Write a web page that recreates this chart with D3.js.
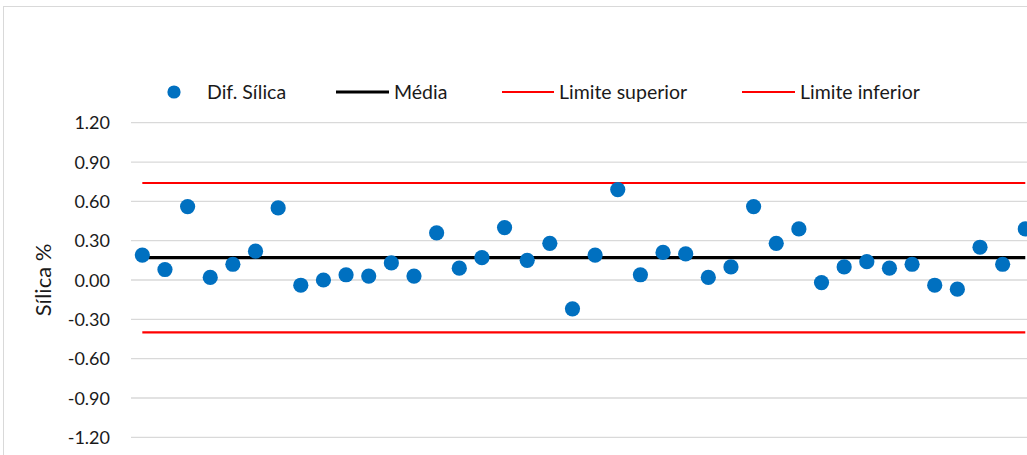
<!DOCTYPE html>
<html>
<head>
<meta charset="utf-8">
<script src="https://cdn.jsdelivr.net/npm/d3@7"></script>
<style>
  html, body { margin: 0; padding: 0; background: #fff; }
  svg { display: block; }
  text { font-family: Lato, "Open Sans", sans-serif; fill: #1a1a1a; }
</style>
</head>
<body>
<svg id="chart" width="1027" height="455"></svg>
<script>
// Silica difference per sample, with mean and control limits
const samples = d3.range(1, 41);
const difSilica = [
  0.19, 0.08, 0.56, 0.02, 0.12, 0.22, 0.55, -0.04, 0.00, 0.04,
  0.03, 0.13, 0.03, 0.36, 0.09, 0.17, 0.40, 0.15, 0.28, -0.22,
  0.19, 0.69, 0.04, 0.21, 0.20, 0.02, 0.10, 0.56, 0.28, 0.39,
  -0.02, 0.10, 0.14, 0.09, 0.12, -0.04, -0.07, 0.25, 0.12, 0.39
];
const media = 0.17;
const limiteSuperior = 0.74;
const limiteInferior = -0.40;
const yTicks = [-1.2, -0.9, -0.6, -0.3, 0, 0.3, 0.6, 0.9, 1.2];
const legendLabels = ["Dif. Sílica", "Média", "Limite superior", "Limite inferior"];

const svg = d3.select("#chart");
const W = 1027, H = 455;

// outer chart frame (continues past the right and bottom edges)
svg.append("rect")
  .attr("x", 3.5).attr("y", 6.5)
  .attr("width", W + 20).attr("height", H + 20)
  .attr("fill", "#fff").attr("stroke", "#d9d9d9").attr("stroke-width", 1);

const step = 22.64;
const plotLeft = 131;
const x = d3.scaleBand()
  .domain(samples)
  .range([plotLeft, plotLeft + samples.length * step]);
const cx = d => x(d) + x.bandwidth() / 2;

const y = d3.scaleLinear().domain([-1.2, 1.2]).range([437.3, 122.7]);

// horizontal gridlines
svg.append("g").selectAll("line").data(yTicks).join("line")
  .attr("x1", plotLeft).attr("x2", W)
  .attr("y1", d => y(d)).attr("y2", d => y(d))
  .attr("stroke", "#d9d9d9").attr("stroke-width", 1.3);

// y axis labels (plain hyphen for negatives)
const fmt = d3.format(".2f");
const yAxis = d3.axisLeft(y).tickValues(yTicks)
  .tickFormat(d => fmt(d).replace("\u2212", "-"))
  .tickSize(0).tickPadding(0);
const gy = svg.append("g").attr("transform", "translate(110,0)").call(yAxis);
gy.select(".domain").remove();
gy.selectAll("text")
  .attr("font-family", "Lato, sans-serif")
  .attr("font-size", 18)
  .attr("fill", "#1a1a1a")
  .attr("dy", "0.34em");

// y axis title
svg.append("text")
  .attr("transform", `translate(51,${y(0)}) rotate(-90)`)
  .attr("text-anchor", "middle")
  .attr("font-size", 22)
  .text("Sílica %");

// horizontal reference series
const refLine = v => d3.line().x(d => cx(d)).y(() => y(v))(samples);
svg.append("path").attr("d", refLine(limiteSuperior))
  .attr("fill", "none").attr("stroke", "#ff0000").attr("stroke-width", 2.2);
svg.append("path").attr("d", refLine(limiteInferior))
  .attr("fill", "none").attr("stroke", "#ff0000").attr("stroke-width", 2.2);
svg.append("path").attr("d", refLine(media))
  .attr("fill", "none").attr("stroke", "#000").attr("stroke-width", 3.2);

// data points
svg.append("g").selectAll("circle").data(samples).join("circle")
  .attr("cx", d => cx(d))
  .attr("cy", (d, i) => y(difSilica[i]))
  .attr("r", 7.6)
  .attr("fill", "#0070c0");

// legend
const lg = svg.append("g");
const ly = 92;
const lfs = 19.5;
lg.append("circle").attr("cx", 174).attr("cy", ly).attr("r", 6.6).attr("fill", "#0070c0");
lg.append("text").attr("x", 207).attr("y", ly).attr("dy", "0.36em").attr("font-size", lfs).text(legendLabels[0]);
lg.append("line").attr("x1", 336).attr("x2", 389).attr("y1", ly).attr("y2", ly)
  .attr("stroke", "#000").attr("stroke-width", 3.2);
lg.append("text").attr("x", 394).attr("y", ly).attr("dy", "0.36em").attr("font-size", lfs).text(legendLabels[1]);
lg.append("line").attr("x1", 502).attr("x2", 554).attr("y1", ly).attr("y2", ly)
  .attr("stroke", "#ff0000").attr("stroke-width", 2.2);
lg.append("text").attr("x", 559).attr("y", ly).attr("dy", "0.36em").attr("font-size", lfs).text(legendLabels[2]);
lg.append("line").attr("x1", 742).attr("x2", 795).attr("y1", ly).attr("y2", ly)
  .attr("stroke", "#ff0000").attr("stroke-width", 2.2);
lg.append("text").attr("x", 800).attr("y", ly).attr("dy", "0.36em").attr("font-size", lfs).text(legendLabels[3]);
</script>
</body>
</html>
